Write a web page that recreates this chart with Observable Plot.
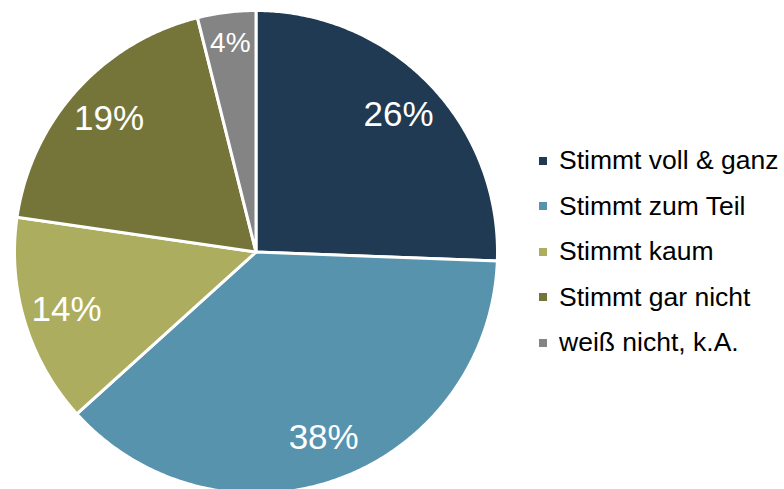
<!DOCTYPE html>
<html>
<head>
<meta charset="utf-8">
<script src="https://cdn.jsdelivr.net/npm/d3@7"></script>
<script src="https://cdn.jsdelivr.net/npm/@observablehq/plot@0.6"></script>
<style>
  html, body { margin: 0; padding: 0; background: #fff; }
  #wrap { position: relative; width: 784px; height: 489px; overflow: hidden; font-family: "Liberation Sans", Arial, sans-serif; }
  #legend { position: absolute; left: 539px; top: 138px; }
  .row { display: flex; align-items: center; height: 45.5px; font-size: 26.5px; color: #000; white-space: nowrap; }
  .sw { width: 8px; height: 8px; margin-right: 12px; flex: none; }
</style>
</head>
<body>
<div id="wrap"><div id="legend"></div></div>
<script>
const categories = ["Stimmt voll & ganz", "Stimmt zum Teil", "Stimmt kaum", "Stimmt gar nicht", "weiß nicht, k.A."];
const values = [25.6, 37.7, 14.0, 18.8, 3.9];
const labels = ["26%", "38%", "14%", "19%", "4%"];
const colors = ["#1F3A52", "#5893AE", "#ADAD5F", "#75753A", "#848484"];

const R = 241.5;
const total = d3.sum(values);
const pts = [];
const labelData = [];
let cum = 0;
values.forEach((v, i) => {
  const a0 = cum / total * 2 * Math.PI;
  const a1 = (cum + v) / total * 2 * Math.PI;
  cum += v;
  pts.push({cat: categories[i], x: 0, y: 0});
  const n = Math.max(2, Math.ceil((a1 - a0) / (Math.PI / 360)));
  for (let k = 0; k <= n; k++) {
    const a = a0 + (a1 - a0) * k / n;
    pts.push({cat: categories[i], x: R * Math.sin(a), y: R * Math.cos(a)});
  }
  const am = (a0 + a1) / 2;
  const lr = (v < 10 ? 0.87 : 0.82) * R;
  labelData.push({text: labels[i], x: lr * Math.sin(am), y: lr * Math.cos(am), small: v < 10});
});

const chart = Plot.plot({
  width: 784,
  height: 489,
  margin: 0,
  style: {fontFamily: "'Liberation Sans', Arial, sans-serif", background: "white"},
  x: {domain: [-255.5, 528.5], axis: null},
  y: {domain: [-237.5, 251.5], axis: null},
  color: {domain: categories, range: colors},
  marks: [
    Plot.line(pts, {x: "x", y: "y", z: "cat", fill: "cat", stroke: "white", strokeWidth: 3, curve: "linear-closed"}),
    Plot.text(labelData, {x: "x", y: "y", text: "text", fill: "white", fontSize: d => d.small ? 28 : 35})
  ]
});
const wrap = document.getElementById("wrap");
wrap.insertBefore(chart, wrap.firstChild);

const legend = document.getElementById("legend");
categories.forEach((c, i) => {
  const row = document.createElement("div");
  row.className = "row";
  const sw = document.createElement("span");
  sw.className = "sw";
  sw.style.background = colors[i];
  const t = document.createElement("span");
  t.textContent = c;
  row.appendChild(sw);
  row.appendChild(t);
  legend.appendChild(row);
});
</script>
</body>
</html>
